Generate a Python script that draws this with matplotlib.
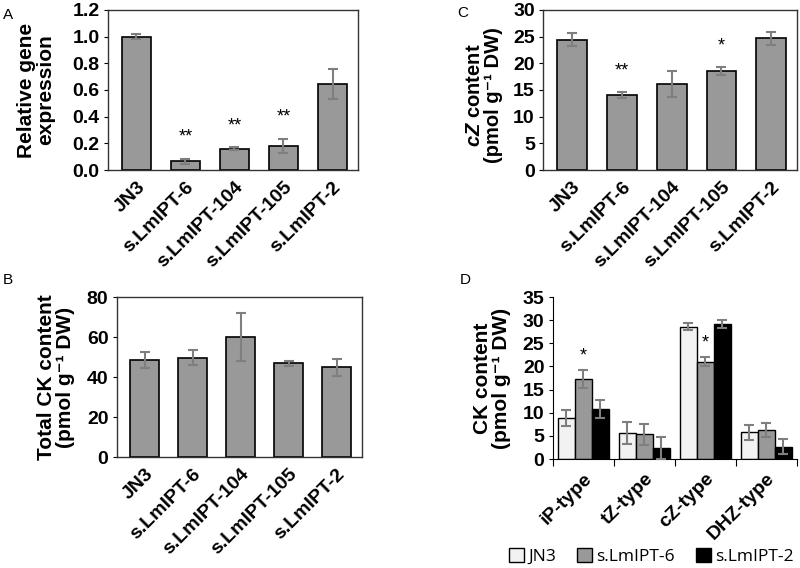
import matplotlib

matplotlib.use('Agg')
import matplotlib.pyplot as plt
import numpy as np
from matplotlib.patches import Patch

plt.rcParams['font.family'] = ['Liberation Sans', 'DejaVu Sans']
plt.rcParams['mathtext.fontset'] = 'custom'
plt.rcParams['mathtext.rm'] = 'Liberation Sans:bold'
plt.rcParams['mathtext.it'] = 'Liberation Sans:bold:italic'
plt.rcParams['mathtext.bf'] = 'Liberation Sans:bold'

lines = ["JN3", "s.LmIPT-6", "s.LmIPT-104", "s.LmIPT-105", "s.LmIPT-2"]

expr_mean = [1.0, 0.065, 0.16, 0.18, 0.645]
expr_err = [0.02, 0.02, 0.01, 0.055, 0.11]
expr_sig = ["", "**", "**", "**", ""]

cz_mean = [24.4, 14.1, 16.1, 18.6, 24.7]
cz_err = [1.2, 0.6, 2.4, 0.8, 1.2]
cz_sig = ["", "**", "", "*", ""]

total_mean = [48.5, 49.6, 60.0, 46.8, 44.8]
total_err = [4.1, 3.8, 12.2, 1.4, 4.3]

ck_types = ["iP-type", "tZ-type", "cZ-type", "DHZ-type"]
ck_groups = ["JN3", "s.LmIPT-6", "s.LmIPT-2"]
ck_mean = {
    "JN3": [8.85, 5.7, 28.6, 5.8],
    "s.LmIPT-6": [17.3, 5.3, 21.0, 6.3],
    "s.LmIPT-2": [10.8, 2.4, 29.2, 2.7],
}
ck_err = {
    "JN3": [1.8, 2.4, 0.8, 1.6],
    "s.LmIPT-6": [1.9, 2.35, 1.0, 1.55],
    "s.LmIPT-2": [1.9, 2.45, 0.8, 1.6],
}
ck_sig = {"s.LmIPT-6": ["*", "", "*", ""]}
ck_colors = ["#f2f2f2", "#999999", "#000000"]

BAR_GRAY = "#999999"
ERR_GRAY = "#7f7f7f"
TICK_FS = 14
LABEL_FS = 15
YLABEL = "(pmol g\u207b\u00b9 DW)"


def simple_bars(ax, means, errs, sig, ymax, step, fmt, ylabel, star_pad, label_fs=LABEL_FS):
    x = np.arange(len(lines))
    ax.bar(x, means, width=0.6, color=BAR_GRAY, edgecolor="black", linewidth=1.2, zorder=2)
    ax.errorbar(x, means, yerr=errs, fmt="none", ecolor=ERR_GRAY, elinewidth=1.5,
                capsize=3.5, capthick=1.5, zorder=3)
    if sig is not None:
        for xi, m, e, s in zip(x, means, errs, sig):
            if s:
                ax.text(xi, m + e + star_pad, s, ha="center", va="bottom", fontsize=13)
    ax.set_xlim(-0.58, 4.52)
    ax.set_ylim(0, ymax)
    ax.set_yticks(np.arange(0, ymax + step / 2, step))
    ax.set_yticklabels([fmt.format(v) for v in np.arange(0, ymax + step / 2, step)])
    ax.set_xticks(x)
    ax.set_xticklabels(lines, rotation=45, ha="right", rotation_mode="anchor")
    ax.tick_params(axis="x", length=0, pad=6)
    ax.tick_params(axis="y", length=3, direction="out", pad=3)
    for lab in ax.get_xticklabels() + ax.get_yticklabels():
        lab.set_fontsize(TICK_FS)
        lab.set_fontweight("bold")
    for sp in ax.spines.values():
        sp.set_linewidth(1.0)
        sp.set_color("#333333")
    ax.set_ylabel(ylabel, fontsize=label_fs, fontweight="bold", linespacing=1.0)


fig = plt.figure(figsize=(8, 5.68), dpi=100)

axA = fig.add_axes([0.135, 0.7007, 0.3125, 0.2817])
simple_bars(axA, expr_mean, expr_err, expr_sig, 1.2, 0.2, "{:.1f}",
            "Relative gene\nexpression", 0.1)
axA.yaxis.set_label_coords(-0.21, 0.5)

axC = fig.add_axes([0.679, 0.7007, 0.3175, 0.2817])
simple_bars(axC, cz_mean, cz_err, cz_sig, 30, 5, "{:.0f}",
            "$\\mathit{cZ}$ content\n" + YLABEL, 2.3, label_fs=14.5)
axC.yaxis.set_label_coords(-0.16, 0.47)

axB = fig.add_axes([0.146, 0.1954, 0.306, 0.2817])
simple_bars(axB, total_mean, total_err, None, 80, 20, "{:.0f}",
            "Total CK content\n" + YLABEL, 0)
axB.yaxis.set_label_coords(-0.17, 0.5)

# panel D: grouped bars
axD = fig.add_axes([0.691, 0.1919, 0.305, 0.2852])
xc = np.arange(len(ck_types))
w = 0.28
for i, (g, c) in enumerate(zip(ck_groups, ck_colors)):
    xs = xc + (i - 1) * w
    axD.bar(xs, ck_mean[g], width=w, color=c, edgecolor="black", linewidth=1.0,
            zorder=2, label=g)
    axD.errorbar(xs, ck_mean[g], yerr=ck_err[g], fmt="none", ecolor=ERR_GRAY,
                 elinewidth=1.5, capsize=3.5, capthick=1.5, zorder=3)
    if g in ck_sig:
        for xi, m, e, s in zip(xs, ck_mean[g], ck_err[g], ck_sig[g]):
            if s:
                axD.text(xi, m + e + 1.2, s, ha="center", va="bottom", fontsize=13)
axD.set_xlim(-0.5, 3.5)
axD.set_ylim(0, 35)
axD.set_yticks(np.arange(0, 36, 5))
axD.set_xticks(np.arange(-0.5, 3.6, 1.0))
axD.set_xticklabels([])
axD.set_xticks(xc, minor=True)
axD.set_xticklabels(ck_types, minor=True, rotation=45, ha="right", rotation_mode="anchor")
axD.tick_params(axis="x", which="major", length=5, direction="out")
axD.tick_params(axis="x", which="minor", length=0, pad=8)
axD.tick_params(axis="y", length=3, direction="out", pad=3)
for lab in axD.get_xticklabels(minor=True) + axD.get_yticklabels():
    lab.set_fontsize(TICK_FS)
    lab.set_fontweight("bold")
axD.spines["top"].set_visible(False)
axD.spines["right"].set_visible(False)
axD.set_ylabel("CK content\n" + YLABEL, fontsize=LABEL_FS, fontweight="bold", linespacing=1.0)
axD.yaxis.set_label_coords(-0.17, 0.5)

handles = [Patch(facecolor=c, edgecolor="black", linewidth=1.0) for c in ck_colors]
fig.legend(handles, ck_groups, loc="center right", bbox_to_anchor=(1.005, 0.02), ncol=3,
           frameon=False, prop={"family": "Open Sans", "size": 12.5},
           handlelength=0.85, handleheight=0.85, handletextpad=0.25, columnspacing=1.2,
           borderaxespad=0.2)

for letter, x, y in [("A", 0.004, 0.986), ("C", 0.571, 0.99), ("B", 0.004, 0.52), ("D", 0.575, 0.52)]:
    fig.text(x, y, letter, fontsize=11, ha="left", va="top")

fig.savefig("out.png", dpi=100)
